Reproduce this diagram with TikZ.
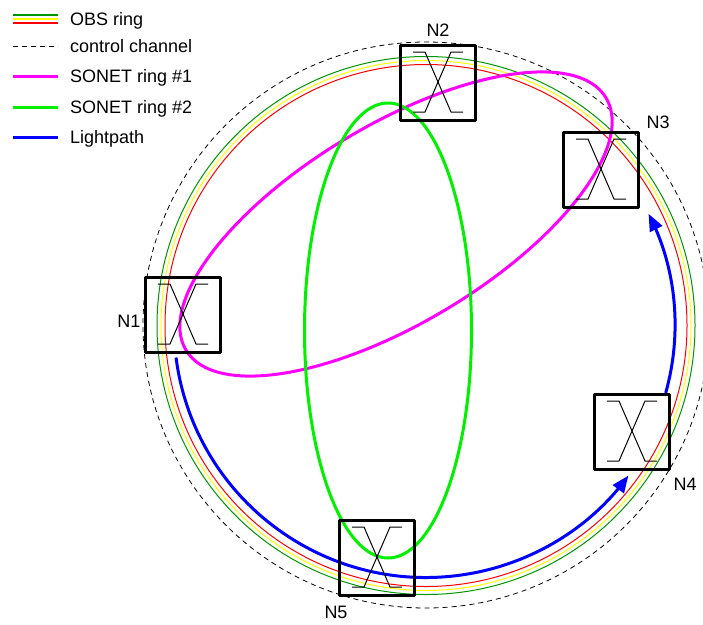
\documentclass[tikz,border=0pt]{standalone}
\usepackage{fontspec}
\setmainfont{Liberation Sans}
\usepackage{tikz}
\usetikzlibrary{arrows}

\definecolor{obsgreen}{RGB}{0,150,0}
\definecolor{obsyellow}{RGB}{255,255,0}
\definecolor{obsred}{RGB}{255,0,0}
\definecolor{sonetmag}{RGB}{255,0,255}
\definecolor{sonetgreen}{RGB}{0,240,0}
\definecolor{lpblue}{RGB}{0,0,255}

\begin{document}
\begin{tikzpicture}[line join=round,>=triangle 45,x=1pt,y=-1pt,
  oxc/.style={draw,line width=3pt,minimum size=75pt,inner sep=0pt},
  lbl/.style={font=\fontsize{18}{21}\selectfont,inner sep=0pt},
  xline/.style={line width=1pt,black},
  ring/.style={line width=1pt},
  ctrl/.style={line width=0.8pt,dash pattern=on 5pt off 4pt},
  sonet/.style={line width=3pt}]
\useasboundingbox (0,0) rectangle (703,624);
\clip (0,0) rectangle (703,624);
% rings
\coordinate (ctr) at (426,325.5);
\draw[ctrl] (426,325) circle (283);
\draw[ring,obsgreen] (ctr) circle (269);
\draw[ring,obsyellow] (ctr) circle (265);
\draw[ring,obsred] (ctr) circle (261);
% SONET rings
\draw[sonet,sonetmag,rotate around={31:(396,224)}] (396,224) ellipse (245 and 99);
\draw[sonet,sonetgreen] (388,330.5) ellipse (83.5 and 227.5);
% lightpath
\path (ctr) ++(172.7:252) coordinate (lpa);
\path (ctr) ++(15.7:249) coordinate (lpb);
\draw[sonet,lpblue,->] (lpa) arc[start angle=172.7,end angle=36.6,radius=252];
\draw[sonet,lpblue,->] (lpb) arc[start angle=15.7,end angle=-26.6,radius=249];
% nodes
\node[oxc] (n1) at (183,315) {};
\node[oxc] (n2) at (438,83) {};
\node[oxc] (n3) at (601,170) {};
\node[oxc] (n4) at (632,432) {};
\node[oxc] (n5) at (377,558) {};
\foreach \nd in {n1,n2,n3,n4,n5} {
  \draw[xline] ([shift={(-25,-31)}]\nd.center) -- ++(12,0) -- ++(26,60) -- ++(12,0);
  \draw[xline] ([shift={(25,-31)}]\nd.center) -- ++(-12,0) -- ++(-26,60) -- ++(-12,0);
}
\node[lbl] (l1) at (129,321) {N1};
\node[lbl] (l2) at (438,30) {N2};
\node[lbl] (l3) at (658,122) {N3};
\node[lbl] (l4) at (685,484) {N4};
\node[lbl] (l5) at (336,612) {N5};
% legend
\draw[ring,line width=1.3pt,obsgreen] (13,15) -- (58,15);
\draw[ring,line width=1.3pt,obsyellow] (13,19) -- (58,19);
\draw[ring,line width=1.3pt,obsred] (13,23) -- (58,23);
\draw[ctrl] (13,46) -- (58,46);
\draw[sonet,sonetmag] (13,76) -- (58,76);
\draw[sonet,sonetgreen] (13,107) -- (58,107);
\draw[sonet,lpblue] (13,137) -- (58,137);
\node[lbl,anchor=base west] (t1) at (70,25) {OBS ring};
\node[lbl,anchor=base west] (t2) at (70,52.5) {control channel};
\node[lbl,anchor=base west] (t3) at (70,82.5) {SONET ring \#1};
\node[lbl,anchor=base west] (t4) at (70,113.5) {SONET ring \#2};
\node[lbl,anchor=base west] (t5) at (70,143.5) {Lightpath};
\end{tikzpicture}
\end{document}
